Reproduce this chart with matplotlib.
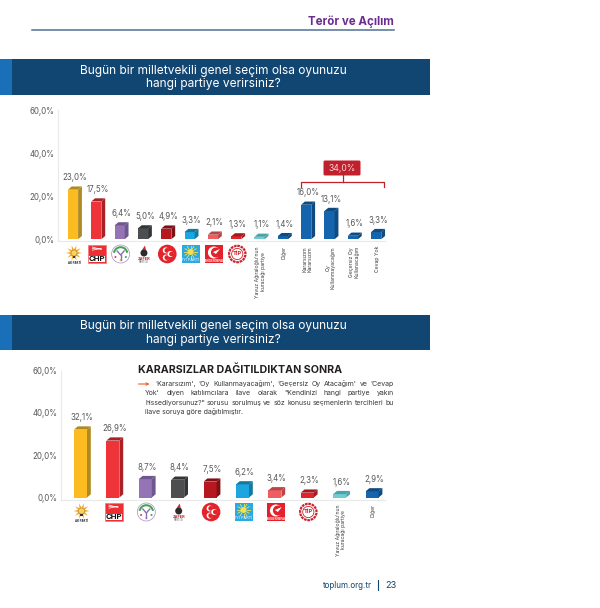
import matplotlib
matplotlib.use('Agg')
import matplotlib.pyplot as plt
from matplotlib.patches import Rectangle, Circle, Polygon, FancyBboxPatch, Wedge
import numpy as np

plt.rcParams['font.family'] = ['Inter', 'DejaVu Sans']

W, H = 600, 608

top_values = [23.0, 17.5, 6.4, 5.0, 4.9, 3.3, 2.1, 1.3, 1.1, 1.4, 16.0, 13.1, 1.6, 3.3]
top_labels = ['23,0%', '17,5%', '6,4%', '5,0%', '4,9%', '3,3%', '2,1%', '1,3%', '1,1%', '1,4%',
              '16,0%', '13,1%', '1,6%', '3,3%']
top_names = {8: "Yavuz Ağıraloğlu'nun\nkuracağı partiye", 9: 'Diğer', 10: 'Kararsızım\nKararsızım',
             11: 'Oy\nKullanmayacağım', 12: 'Geçersiz Oy\nKullanacağım', 13: 'Cevap Yok'}
top_colors = ['yellow', 'red', 'purple', 'dark', 'darkred', 'sky', 'coral', 'red2', 'teal',
              'blue', 'blue', 'blue', 'blue', 'blue']

bottom_values = [32.1, 26.9, 8.7, 8.4, 7.5, 6.2, 3.4, 2.3, 1.6, 2.9]
bottom_labels = ['32,1%', '26,9%', '8,7%', '8,4%', '7,5%', '6,2%', '3,4%', '2,3%', '1,6%', '2,9%']
bottom_names = {8: "Yavuz Ağıraloğlu'nun\nkuracağı partiye", 9: 'Diğer'}
bottom_colors = ['yellow', 'red', 'purple', 'dark', 'darkred', 'sky', 'coral', 'red2', 'teal', 'blue']

logos = ['ak', 'chp', 'dem', 'zafer', 'mhp', 'iyi', 'yrp', 'tip']

y_ticks = [0, 20, 40, 60]
y_tick_labels = ['0,0%', '20,0%', '40,0%', '60,0%']

palette = {
    'yellow': ('#FDBB22', '#AE8A22'), 'red': ('#EE3438', '#A92226'), 'purple': ('#9474B4', '#6E578E'),
    'dark': ('#4D4E50', '#343537'), 'darkred': ('#B7171F', '#7E1116'), 'sky': ('#1CA6E0', '#15789F'),
    'coral': ('#EF5D61', '#B94548'), 'red2': ('#E2242A', '#A41A1E'), 'teal': ('#6DCCD4', '#4BA2A9'),
    'blue': ('#1565AE', '#0F4A80'),
}

GREY = '#58595B'
NAVY = '#124672'

fig = plt.figure(figsize=(W / 100, H / 100), dpi=100)
page = fig.add_axes([0, 0, 1, 1])
page.set_xlim(0, W)
page.set_ylim(H, 0)
page.axis('off')


def banner(y0, y1, ty1, ty2):
    page.add_patch(Rectangle((0, y0), 430, y1 - y0, fc=NAVY, ec='none'))
    page.add_patch(Rectangle((0, y0), 12, y1 - y0, fc='#1A70B8', ec='none'))
    page.text(213.5, ty1, 'Bugün bir milletvekili genel seçim olsa oyunuzu', color='white', fontsize=8.6,
              ha='center', va='center')
    page.text(213.5, ty2, 'hangi partiye verirsiniz?', color='white', fontsize=8.6, ha='center', va='center')


def bar_chart(values, labels, colors, names, x_first, step, y60, y0, y_line, x_left, x_right, bar_w, logo_y):
    # axes spans pixels x_left..x_right and y60..y_line, data units stay real
    ppu = (y0 - y60) / 60
    ax = fig.add_axes([x_left / W, 1 - y_line / H, (x_right - x_left) / W, (y_line - y60) / H])
    ax.set_xlim((x_left - x_first) / step, (x_right - x_first) / step)
    ax.set_ylim(-(y_line - y0) / ppu, 60)
    ax.patch.set_alpha(0)
    for s in ['top', 'right']:
        ax.spines[s].set_visible(False)
    for s in ['left', 'bottom']:
        ax.spines[s].set_color('#E9E9EA')
        ax.spines[s].set_linewidth(0.8)
    ax.set_xticks([])
    ax.set_yticks(y_ticks)
    ax.set_yticklabels(y_tick_labels, fontsize=5.7, color=GREY)
    ax.tick_params(axis='y', length=0, pad=2.6)

    dx, dy = 3.8 / step, 3.2 / ppu
    w = bar_w / step
    xs = np.arange(len(values))
    for i, v in zip(xs, values):
        face, side = palette[colors[i]]
        ax.bar(i, v, width=w, color=face, zorder=3, clip_on=False)
        ax.add_patch(Polygon([(i + w / 2, 0), (i + w / 2 + dx, dy), (i + w / 2 + dx, v + dy), (i + w / 2, v)],
                             fc=side, ec='none', zorder=3, clip_on=False))
        ax.add_patch(Polygon([(i - w / 2, v), (i - w / 2 + dx, v + dy), (i + w / 2 + dx, v + dy), (i + w / 2, v)],
                             fc=side, ec='none', zorder=3, clip_on=False))
        ax.annotate(labels[i], (i + dx / 2, v + dy), xytext=(0, 3), textcoords='offset points',
                    ha='center', va='bottom', fontsize=5.7, color=GREY)
        cx = x_first + step * i
        if i in names:
            page.text(cx + 1, logo_y - 8, names[i], rotation=90, ha='center', va='top', fontsize=3.7,
                      color='#404042', linespacing=1.05, multialignment='center')
        elif i < len(logos):
            draw_logo(logos[i], cx + 1, logo_y)
    return ax


def draw_logo(name, cx, cy):
    if name == 'ak':
        for a in np.arange(0, 360, 36):
            r = np.deg2rad(a)
            page.add_patch(Polygon([(cx + 8 * np.cos(r), cy - 1 + 8 * np.sin(r)),
                                    (cx + 3 * np.cos(r + 0.4), cy - 1 + 3 * np.sin(r + 0.4)),
                                    (cx + 3 * np.cos(r - 0.4), cy - 1 + 3 * np.sin(r - 0.4))],
                                   fc='#F7A823', ec='none'))
        page.add_patch(Circle((cx, cy - 1), 3, fc='#FBD25C', ec='#8A6D1E', lw=0.3))
        page.add_patch(Rectangle((cx - 1.3, cy + 2), 2.6, 2.2, fc='#333333', ec='none'))
        page.text(cx, cy + 8.5, 'AK PARTİ', fontsize=2, ha='center', va='center', color='#222222', weight='bold')
    elif name == 'chp':
        page.add_patch(Rectangle((cx - 9, cy - 9), 18, 17.5, fc='#EE2E33', ec='#F2787B', lw=0.5))
        for k in range(3):
            page.plot([cx - 5, cx + 4], [cy - 7 + k * 1.6, cy - 4.5 - k * 0.6], color='white', lw=0.5)
        page.add_patch(Rectangle((cx - 8, cy + 1.5), 16, 6, fc='white', ec='none'))
        page.text(cx, cy + 4.6, 'CHP', fontsize=5.6, weight='bold', ha='center', va='center', color='#111111')
    elif name == 'dem':
        page.add_patch(Circle((cx, cy), 9, fc='white', ec='#A58CC0', lw=0.5))
        page.add_patch(Wedge((cx, cy), 7.8, 190, 350, width=2, fc='#3FA650', ec='none'))
        page.plot([cx - 3.5, cx, cx + 3.5], [cy - 3, cy + 1, cy - 3], color='#8D6FB0', lw=1)
        page.plot([cx, cx], [cy + 1, cy + 6], color='#8D6FB0', lw=1)
        for a, c in zip([150, 90, 30], ['#E53935', '#FBC02D', '#3FA650']):
            r = np.deg2rad(a)
            page.add_patch(Circle((cx + 6 * np.cos(r), cy + 6 * np.sin(r)), 1, fc=c, ec='none'))
    elif name == 'zafer':
        page.add_patch(Circle((cx, cy - 1), 3.5, fc='#2B2B2D', ec='none'))
        page.add_patch(Polygon([(cx - 2, cy - 4), (cx + 1, cy - 8.5), (cx + 2, cy - 4)], fc='#D9232A', ec='none'))
        page.text(cx, cy + 5.5, 'ZAFER', fontsize=2.8, weight='bold', ha='center', va='center', color='#C8202A')
        page.text(cx, cy + 8, 'PARTİSİ', fontsize=1.8, ha='center', va='center', color='#555555')
    elif name == 'mhp':
        page.add_patch(Circle((cx, cy), 9.3, fc='#E3242B', ec='none'))
        for ox, oy in [(-1.5, -3.6), (-1.5, 3.6), (3.2, 0)]:
            page.add_patch(Circle((cx + ox, cy + oy), 3, fc='white', ec='none'))
            page.add_patch(Circle((cx + ox + 1.1, cy + oy), 2.4, fc='#E3242B', ec='none'))
    elif name == 'iyi':
        page.add_patch(Rectangle((cx - 9, cy - 9), 18, 18, fc='#2BA9E1', ec='none'))
        for a in np.arange(0, 360, 30):
            r = np.deg2rad(a)
            page.plot([cx + 3.5 * np.cos(r), cx + 6.5 * np.cos(r)], [cy - 2 + 3.5 * np.sin(r), cy - 2 + 6.5 * np.sin(r)],
                      color='#F7E04B', lw=0.6)
        page.add_patch(Circle((cx, cy - 2), 3, fc='#F7E04B', ec='none'))
        page.text(cx, cy + 6, 'İYİ PARTİ', fontsize=2.8, ha='center', va='center', color='white')
    elif name == 'yrp':
        page.add_patch(Rectangle((cx - 9, cy - 9), 18, 18, fc='#E4202A', ec='none'))
        page.add_patch(Circle((cx, cy - 1.5), 6, fc='white', ec='none'))
        page.add_patch(Circle((cx + 2, cy - 1.5), 5, fc='#E4202A', ec='none'))
        page.add_patch(Polygon([(cx - 1, cy - 2), (cx + 6, cy - 5), (cx + 2, cy)], fc='white', ec='none'))
        page.text(cx, cy + 6.5, 'YENİDEN REFAH', fontsize=1.9, weight='bold', ha='center', va='center', color='white')
    elif name == 'tip':
        page.add_patch(Circle((cx, cy), 8.2, fc='white', ec='#C9252C', lw=1.6, ls=(0, (1.2, 0.35))))
        page.add_patch(Circle((cx, cy), 5.6, fc='white', ec='#C9252C', lw=0.6))
        page.text(cx, cy - 0.5, 'TİP', fontsize=4.2, weight='bold', ha='center', va='center', color='#C9252C')


# header
page.text(393.5, 22, 'Terör ve Açılım', color='#6B2C91', fontsize=8.3, weight='bold', ha='right', va='center')
page.plot([32, 394], [30, 30], color='#4F7097', lw=1.1)

banner(59, 95, 71, 84.5)
banner(315, 350, 326, 340)

bar_chart(top_values, top_labels, top_colors, top_names, 73, 23.32, 110, 239.2, 241, 58, 385, 10.2, 254)
bar_chart(bottom_values, bottom_labels, bottom_colors, bottom_names, 80.5, 32.4, 370.5, 497.5, 500, 61, 385, 13, 512)

# bracket over the undecided group
page.add_patch(FancyBboxPatch((323.5, 160.5), 37, 15, boxstyle='round,pad=0,rounding_size=1.5', fc='#C1202D', ec='none'))
page.text(342, 168.3, '34,0%', color='#F6D5D7', fontsize=6.2, ha='center', va='center')
page.plot([301, 301, 384, 384], [187, 182, 182, 187], color='#C1202D', lw=0.9)
page.plot([343, 343], [175, 182], color='#C1202D', lw=0.9)

# note
page.text(138, 370, 'KARARSIZLAR DAĞITILDIKTAN SONRA', fontsize=7.7, weight='bold', color='#231F20', va='center')
page.annotate('', xy=(149.5, 384), xytext=(138.5, 384),
              arrowprops=dict(arrowstyle='->', color='#F15A29', lw=0.8, mutation_scale=4, shrinkA=0, shrinkB=0))

note_lines = [
    (155, "'Kararsızım', 'Oy Kullanmayacağım', 'Geçersiz Oy Atacağım' ve 'Cevap", True),
    (145, "Yok' diyen katılımcılara ilave olarak \"Kendinizi hangi partiye yakın", True),
    (145, 'hissediyorsunuz?" sorusu sorulmuş ve söz konusu seçmenlerin tercihleri bu', True),
    (145, 'ilave soruya göre dağıtılmıştır.', False),
]
renderer = fig.canvas.get_renderer()
note_right = 394
for n, (x0, line, justify) in enumerate(note_lines):
    # baseline alignment so words with descenders stay on the line
    y = 386 + n * 9.4
    if not justify:
        page.text(x0, y, line, fontsize=5.0, color='#3A3A3C', va='baseline')
        continue
    words = [page.text(x0, y, w, fontsize=5.0, color='#3A3A3C', va='baseline') for w in line.split(' ')]
    widths = [t.get_window_extent(renderer).width for t in words]
    gap = (note_right - x0 - sum(widths)) / (len(words) - 1)
    x = x0
    for t, wd in zip(words, widths):
        t.set_x(x)
        x += wd + gap

# footer
page.text(371.5, 585, 'toplum.org.tr', fontsize=5.8, color=NAVY, ha='right', va='center')
page.plot([377.5, 377.5], [580, 590], color=NAVY, lw=0.8)
page.text(385, 585, '23', fontsize=6.6, color=NAVY, ha='left', va='center')

fig.savefig('out.png', dpi=100)
